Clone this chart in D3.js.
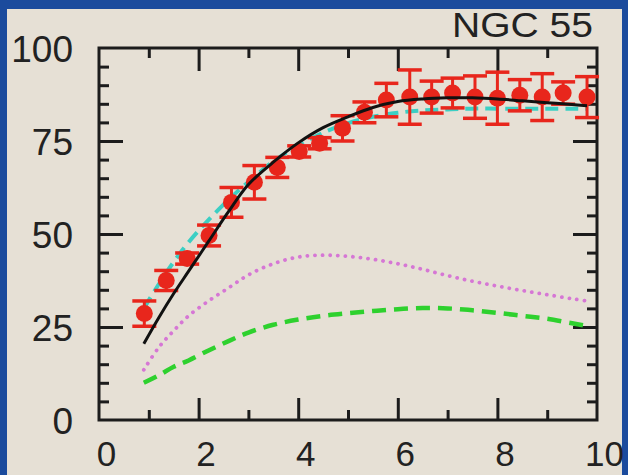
<!DOCTYPE html>
<html>
<head>
<meta charset="utf-8">
<script src="https://cdn.jsdelivr.net/npm/d3@7"></script>
<style>
  html, body { margin: 0; padding: 0; background: #1b4b9d; }
  svg { display: block; }
</style>
</head>
<body>
<svg id="chart" width="628" height="475"></svg>
<script>
// Rotation curve of NGC 55: observed velocities with errors and model components
const title = "NGC 55";

const obsR   = [0.91, 1.35, 1.77, 2.21, 2.66, 3.12, 3.58, 4.02, 4.43, 4.89, 5.33,
                5.77, 6.24, 6.68, 7.10, 7.55, 8.00, 8.45, 8.90, 9.32, 9.80];
const obsV   = [28.6, 37.5, 43.4, 49.6, 58.5, 63.9, 67.9, 72.2, 74.4, 78.4, 82.7,
                86.0, 86.8, 86.8, 87.9, 86.8, 86.5, 87.3, 86.8, 87.9, 86.8];
const obsErr = [3.4, 2.7, 1.5, 2.8, 4.0, 4.5, 2.7, 1.5, 1.5, 3.4, 2.8,
                4.5, 7.3, 4.3, 4.0, 5.7, 7.0, 4.2, 6.3, 3.0, 5.5];

const modelR     = [0.9, 1.2, 1.5, 1.8, 2.2, 2.6, 3.0, 3.5, 4.0, 4.5, 5.0,
                    5.5, 6.0, 6.5, 7.0, 7.5, 8.0, 8.5, 9.0, 9.5, 9.8];
const totalV     = [20.5, 27.5, 34.0, 40.0, 48.0, 56.0, 63.3, 69.3, 74.5, 78.6, 81.5,
                    84.0, 85.6, 86.3, 86.6, 86.6, 86.3, 85.8, 85.3, 84.8, 84.5];
const altTotalV  = [30.0, 36.5, 42.5, 47.8, 53.8, 59.2, 64.0, 69.5, 73.8, 77.2, 79.8,
                    81.5, 82.6, 83.2, 83.5, 83.7, 83.7, 83.7, 83.7, 83.7, 83.7];
const diskV      = [13.5, 19.5, 24.0, 28.0, 32.0, 35.5, 39.0, 42.0, 43.8, 44.3, 44.0,
                    43.2, 42.0, 40.5, 38.8, 37.3, 36.0, 34.8, 33.7, 32.6, 32.0];
const gasV       = [10.0, 12.0, 14.3, 16.0, 18.7, 21.2, 23.5, 25.6, 27.0, 28.0, 28.7,
                    29.3, 29.8, 30.1, 30.0, 29.5, 28.8, 28.0, 27.2, 26.0, 25.3];

const xMajor = [2, 4, 6, 8];
const xMinor = [1, 3, 5, 7, 9];
const xLabels = [0, 2, 4, 6, 8, 10];
const yMajor = [25, 50, 75];
const yMinor = [5, 10, 15, 20, 30, 35, 40, 45, 55, 60, 65, 70, 80, 85, 90, 95];
const yLabels = [0, 25, 50, 75, 100];

const svg = d3.select("#chart");
const W = 628, H = 475;

// panel background
svg.append("rect").attr("x", 0).attr("y", 0).attr("width", W).attr("height", H).attr("fill", "#1b4b9d");
svg.append("rect").attr("x", 7).attr("y", 9).attr("width", 615).attr("height", H - 9).attr("fill", "#e6e0d5");

const x = d3.scaleLinear().domain([0, 10]).range([99, 597]);
const y = d3.scaleLinear().domain([0, 100]).range([420, 48]);

const ink = "#1c1c1c";
const fontFam = "'Liberation Sans', Arial, Helvetica, sans-serif";

// inward ticks on all four sides
function tickAxis(axisFn, scale, values, size, transform) {
  const g = svg.append("g").attr("transform", transform)
    .call(axisFn(scale).tickValues(values).tickSize(size).tickFormat(""));
  g.select(".domain").remove();
  g.selectAll(".tick line").attr("stroke", ink).attr("stroke-width", 3);
  return g;
}
tickAxis(d3.axisBottom, x, xMajor, -22, `translate(0,${y(0)})`);
tickAxis(d3.axisBottom, x, xMinor, -10, `translate(0,${y(0)})`);
tickAxis(d3.axisTop, x, xMajor, -23, `translate(0,${y(100)})`);
tickAxis(d3.axisTop, x, xMinor, -10, `translate(0,${y(100)})`);
tickAxis(d3.axisLeft, y, yMajor, -24, `translate(${x(0)},0)`);
tickAxis(d3.axisLeft, y, yMinor, -10, `translate(${x(0)},0)`);
tickAxis(d3.axisRight, y, yMajor, -24, `translate(${x(10)},0)`);
tickAxis(d3.axisRight, y, yMinor, -10, `translate(${x(10)},0)`);

// frame
svg.append("rect")
  .attr("x", x(0)).attr("y", y(100))
  .attr("width", x(10) - x(0)).attr("height", y(0) - y(100))
  .attr("fill", "none").attr("stroke", ink).attr("stroke-width", 3);

// tick labels
const yLab = svg.append("g").attr("transform", `translate(${x(0)},0)`)
  .call(d3.axisLeft(y).tickValues(yLabels).tickSize(0).tickPadding(26));
yLab.select(".domain").remove();
yLab.selectAll("text").attr("font-family", fontFam).attr("font-size", 37)
  .attr("fill", "#222").attr("dy", "0.36em");

const xLab = svg.append("g").attr("transform", `translate(0,${y(0)})`)
  .call(d3.axisBottom(x).tickValues(xLabels).tickSize(0).tickPadding(21.5));
xLab.select(".domain").remove();
xLab.selectAll("text").attr("font-family", fontFam).attr("font-size", 35)
  .attr("fill", "#222").attr("dx", 7);

// title
svg.append("text").attr("x", 593).attr("y", 37)
  .attr("text-anchor", "end").attr("font-family", fontFam)
  .attr("font-size", 35).attr("fill", "#222")
  .attr("textLength", 141).attr("lengthAdjust", "spacingAndGlyphs")
  .text(title);

const line = d3.line().x(d => x(d[0])).y(d => y(d[1])).curve(d3.curveCatmullRom);
const pts = arr => modelR.map((r, i) => [r, arr[i]]);

svg.append("path").datum(pts(diskV)).attr("d", line)
  .attr("fill", "none").attr("stroke", "#d677d5").attr("stroke-width", 3.8)
  .attr("stroke-linecap", "round").attr("stroke-dasharray", "0.1,7.5");

svg.append("path").datum(pts(gasV)).attr("d", line)
  .attr("fill", "none").attr("stroke", "#2ed12e").attr("stroke-width", 4.5)
  .attr("stroke-dasharray", "14,8");

svg.append("path").datum(pts(altTotalV)).attr("d", line)
  .attr("fill", "none").attr("stroke", "#3ccfc4").attr("stroke-width", 4)
  .attr("stroke-dasharray", "13,7");

// observed points with error bars
const red = "#e8261c";
const obs = obsR.map((r, i) => ({ r, v: obsV[i], e: obsErr[i] }));
const og = svg.append("g").selectAll("g").data(obs).join("g");
og.append("line")
  .attr("x1", d => x(d.r)).attr("x2", d => x(d.r))
  .attr("y1", d => y(d.v - d.e)).attr("y2", d => y(d.v + d.e))
  .attr("stroke", red).attr("stroke-width", 3);
og.append("line")
  .attr("x1", d => x(d.r) - 12).attr("x2", d => x(d.r) + 12)
  .attr("y1", d => y(d.v + d.e)).attr("y2", d => y(d.v + d.e))
  .attr("stroke", red).attr("stroke-width", 3.5);
og.append("line")
  .attr("x1", d => x(d.r) - 12).attr("x2", d => x(d.r) + 12)
  .attr("y1", d => y(d.v - d.e)).attr("y2", d => y(d.v - d.e))
  .attr("stroke", red).attr("stroke-width", 3.5);
og.append("circle")
  .attr("cx", d => x(d.r)).attr("cy", d => y(d.v)).attr("r", 8.5)
  .attr("fill", red);

svg.append("path").datum(pts(totalV)).attr("d", line)
  .attr("fill", "none").attr("stroke", "#111").attr("stroke-width", 3);
</script>
</body>
</html>
